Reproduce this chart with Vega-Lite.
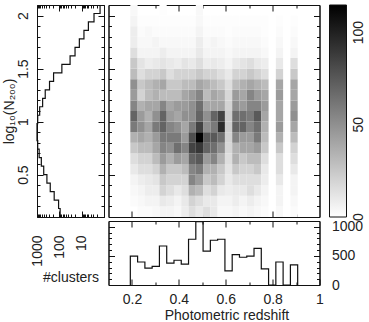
{
  "$schema": "https://vega.github.io/schema/vega-lite/v6.json",
  "padding": {"left": 2, "top": 2, "right": 5, "bottom": 2},
  "config": {
    "font": "Liberation Sans",
    "view": {"stroke": null},
    "axis": {
      "domain": true, "domainColor": "#111", "domainWidth": 1, "grid": false, "zindex": 1,
      "labelFont": "Liberation Sans", "labelFontSize": 14, "labelColor": "#222",
      "labelOverlap": false, "labelFlush": false,
      "tickColor": "#111", "tickWidth": 1,
      "titleFont": "Liberation Sans", "titleFontSize": 14, "titleFontWeight": "normal", "titleColor": "#222"
    },
    "legend": {
      "labelFont": "Liberation Sans", "labelFontSize": 14, "labelColor": "#222"
    }
  },
  "datasets": {
    "xbins": [
      {"col": "c0", "x0": 0.1931, "x1": 0.2241}, {"col": "c1", "x0": 0.2241, "x1": 0.2552},
      {"col": "c2", "x0": 0.2552, "x1": 0.2862}, {"col": "c3", "x0": 0.2862, "x1": 0.3172},
      {"col": "c4", "x0": 0.3172, "x1": 0.3483}, {"col": "c5", "x0": 0.3483, "x1": 0.3793},
      {"col": "c6", "x0": 0.3793, "x1": 0.4103}, {"col": "c7", "x0": 0.4103, "x1": 0.4414},
      {"col": "c8", "x0": 0.4414, "x1": 0.4724}, {"col": "c9", "x0": 0.4724, "x1": 0.5034},
      {"col": "c10", "x0": 0.5034, "x1": 0.5345}, {"col": "c11", "x0": 0.5345, "x1": 0.5655},
      {"col": "c12", "x0": 0.5655, "x1": 0.5966}, {"col": "c13", "x0": 0.5966, "x1": 0.6276},
      {"col": "c14", "x0": 0.6276, "x1": 0.6586}, {"col": "c15", "x0": 0.6586, "x1": 0.6897},
      {"col": "c16", "x0": 0.6897, "x1": 0.7207}, {"col": "c17", "x0": 0.7207, "x1": 0.7517},
      {"col": "c18", "x0": 0.7517, "x1": 0.7828}, {"col": "c19", "x0": 0.7828, "x1": 0.8138},
      {"col": "c20", "x0": 0.8138, "x1": 0.8448}, {"col": "c21", "x0": 0.8448, "x1": 0.8759},
      {"col": "c22", "x0": 0.8759, "x1": 0.9069}
    ],
    "grid": [
      {"y0": 0.1, "y1": 0.2, "c0": 0, "c1": 2, "c2": 2, "c3": 3, "c4": 5, "c5": 5, "c6": 3, "c7": 8, "c8": 15, "c9": 10, "c10": 15, "c11": 10, "c12": 3, "c13": 3, "c14": 5, "c15": 3, "c16": 5, "c17": 3, "c18": 2, "c19": 0, "c20": 3, "c21": 0, "c22": 2},
      {"y0": 0.2, "y1": 0.3, "c0": 2, "c1": 3, "c2": 5, "c3": 5, "c4": 10, "c5": 8, "c6": 5, "c7": 10, "c8": 20, "c9": 15, "c10": 10, "c11": 10, "c12": 5, "c13": 5, "c14": 8, "c15": 5, "c16": 8, "c17": 5, "c18": 3, "c19": 0, "c20": 5, "c21": 0, "c22": 3},
      {"y0": 0.3, "y1": 0.4, "c0": 3, "c1": 5, "c2": 8, "c3": 8, "c4": 20, "c5": 15, "c6": 10, "c7": 15, "c8": 35, "c9": 30, "c10": 15, "c11": 20, "c12": 10, "c13": 8, "c14": 10, "c15": 10, "c16": 15, "c17": 10, "c18": 5, "c19": 0, "c20": 5, "c21": 0, "c22": 5},
      {"y0": 0.4, "y1": 0.5, "c0": 5, "c1": 8, "c2": 10, "c3": 12, "c4": 25, "c5": 20, "c6": 20, "c7": 20, "c8": 55, "c9": 45, "c10": 25, "c11": 30, "c12": 20, "c13": 10, "c14": 15, "c15": 15, "c16": 15, "c17": 15, "c18": 8, "c19": 0, "c20": 10, "c21": 0, "c22": 5},
      {"y0": 0.5, "y1": 0.6, "c0": 10, "c1": 15, "c2": 15, "c3": 20, "c4": 35, "c5": 25, "c6": 25, "c7": 30, "c8": 55, "c9": 60, "c10": 35, "c11": 35, "c12": 25, "c13": 12, "c14": 25, "c15": 20, "c16": 20, "c17": 25, "c18": 10, "c19": 0, "c20": 15, "c21": 0, "c22": 10},
      {"y0": 0.6, "y1": 0.7, "c0": 15, "c1": 20, "c2": 20, "c3": 30, "c4": 45, "c5": 35, "c6": 45, "c7": 40, "c8": 70, "c9": 75, "c10": 45, "c11": 55, "c12": 35, "c13": 15, "c14": 35, "c15": 25, "c16": 30, "c17": 30, "c18": 15, "c19": 0, "c20": 15, "c21": 0, "c22": 15},
      {"y0": 0.7, "y1": 0.8, "c0": 25, "c1": 30, "c2": 30, "c3": 40, "c4": 55, "c5": 50, "c6": 65, "c7": 55, "c8": 85, "c9": 90, "c10": 70, "c11": 65, "c12": 50, "c13": 18, "c14": 35, "c15": 40, "c16": 40, "c17": 45, "c18": 25, "c19": 0, "c20": 25, "c21": 0, "c22": 20},
      {"y0": 0.8, "y1": 0.9, "c0": 35, "c1": 40, "c2": 35, "c3": 45, "c4": 60, "c5": 60, "c6": 60, "c7": 45, "c8": 80, "c9": 115, "c10": 75, "c11": 75, "c12": 65, "c13": 20, "c14": 55, "c15": 45, "c16": 45, "c17": 60, "c18": 30, "c19": 0, "c20": 35, "c21": 0, "c22": 30},
      {"y0": 0.9, "y1": 1.0, "c0": 60, "c1": 50, "c2": 40, "c3": 60, "c4": 70, "c5": 55, "c6": 50, "c7": 40, "c8": 60, "c9": 85, "c10": 50, "c11": 60, "c12": 95, "c13": 22, "c14": 70, "c15": 70, "c16": 55, "c17": 65, "c18": 35, "c19": 0, "c20": 45, "c21": 0, "c22": 40},
      {"y0": 1.0, "y1": 1.1, "c0": 70, "c1": 45, "c2": 35, "c3": 50, "c4": 70, "c5": 45, "c6": 40, "c7": 50, "c8": 50, "c9": 70, "c10": 50, "c11": 70, "c12": 85, "c13": 22, "c14": 65, "c15": 65, "c16": 60, "c17": 75, "c18": 40, "c19": 0, "c20": 40, "c21": 0, "c22": 50},
      {"y0": 1.1, "y1": 1.2, "c0": 55, "c1": 35, "c2": 40, "c3": 40, "c4": 55, "c5": 40, "c6": 45, "c7": 45, "c8": 50, "c9": 65, "c10": 40, "c11": 40, "c12": 40, "c13": 20, "c14": 50, "c15": 45, "c16": 55, "c17": 55, "c18": 45, "c19": 0, "c20": 40, "c21": 0, "c22": 45},
      {"y0": 1.2, "y1": 1.3, "c0": 45, "c1": 20, "c2": 30, "c3": 35, "c4": 30, "c5": 30, "c6": 30, "c7": 40, "c8": 45, "c9": 55, "c10": 30, "c11": 40, "c12": 35, "c13": 18, "c14": 45, "c15": 40, "c16": 55, "c17": 45, "c18": 40, "c19": 0, "c20": 45, "c21": 0, "c22": 40},
      {"y0": 1.3, "y1": 1.4, "c0": 50, "c1": 25, "c2": 30, "c3": 35, "c4": 40, "c5": 25, "c6": 25, "c7": 30, "c8": 30, "c9": 40, "c10": 35, "c11": 30, "c12": 25, "c13": 15, "c14": 30, "c15": 35, "c16": 40, "c17": 35, "c18": 30, "c19": 0, "c20": 40, "c21": 0, "c22": 40},
      {"y0": 1.4, "y1": 1.5, "c0": 30, "c1": 15, "c2": 20, "c3": 20, "c4": 25, "c5": 15, "c6": 20, "c7": 20, "c8": 20, "c9": 25, "c10": 20, "c11": 20, "c12": 15, "c13": 10, "c14": 20, "c15": 20, "c16": 25, "c17": 20, "c18": 15, "c19": 0, "c20": 20, "c21": 0, "c22": 25},
      {"y0": 1.5, "y1": 1.6, "c0": 25, "c1": 12, "c2": 8, "c3": 10, "c4": 12, "c5": 10, "c6": 8, "c7": 12, "c8": 10, "c9": 15, "c10": 8, "c11": 10, "c12": 8, "c13": 5, "c14": 10, "c15": 12, "c16": 15, "c17": 10, "c18": 8, "c19": 0, "c20": 10, "c21": 0, "c22": 15},
      {"y0": 1.6, "y1": 1.7, "c0": 15, "c1": 5, "c2": 5, "c3": 5, "c4": 8, "c5": 5, "c6": 5, "c7": 5, "c8": 5, "c9": 10, "c10": 5, "c11": 5, "c12": 5, "c13": 3, "c14": 5, "c15": 5, "c16": 5, "c17": 5, "c18": 3, "c19": 0, "c20": 5, "c21": 0, "c22": 5},
      {"y0": 1.7, "y1": 1.8, "c0": 8, "c1": 3, "c2": 3, "c3": 5, "c4": 3, "c5": 3, "c6": 3, "c7": 3, "c8": 3, "c9": 8, "c10": 3, "c11": 5, "c12": 3, "c13": 2, "c14": 3, "c15": 3, "c16": 3, "c17": 3, "c18": 2, "c19": 0, "c20": 3, "c21": 0, "c22": 3},
      {"y0": 1.8, "y1": 1.9, "c0": 8, "c1": 2, "c2": 3, "c3": 2, "c4": 2, "c5": 2, "c6": 2, "c7": 2, "c8": 2, "c9": 5, "c10": 2, "c11": 2, "c12": 2, "c13": 1, "c14": 2, "c15": 2, "c16": 2, "c17": 2, "c18": 1, "c19": 0, "c20": 2, "c21": 0, "c22": 2},
      {"y0": 1.9, "y1": 2.0, "c0": 5, "c1": 1, "c2": 1, "c3": 1, "c4": 1, "c5": 1, "c6": 1, "c7": 1, "c8": 1, "c9": 3, "c10": 1, "c11": 1, "c12": 1, "c13": 1, "c14": 1, "c15": 1, "c16": 1, "c17": 1, "c18": 1, "c19": 0, "c20": 1, "c21": 0, "c22": 1},
      {"y0": 2.0, "y1": 2.1, "c0": 3, "c1": 0, "c2": 0, "c3": 0, "c4": 1, "c5": 0, "c6": 0, "c7": 0, "c8": 0, "c9": 3, "c10": 0, "c11": 0, "c12": 0, "c13": 0, "c14": 0, "c15": 0, "c16": 0, "c17": 0, "c18": 0, "c19": 0, "c20": 0, "c21": 0, "c22": 0}
    ],
    "yhist": [
      {"y": 0.10, "n": 92}, {"y": 0.18, "n": 108}, {"y": 0.26, "n": 170}, {"y": 0.34, "n": 255},
      {"y": 0.42, "n": 360}, {"y": 0.50, "n": 500}, {"y": 0.58, "n": 640}, {"y": 0.66, "n": 800},
      {"y": 0.74, "n": 930}, {"y": 0.82, "n": 1000}, {"y": 0.90, "n": 1000}, {"y": 0.98, "n": 930},
      {"y": 1.06, "n": 760}, {"y": 1.14, "n": 560}, {"y": 1.22, "n": 428}, {"y": 1.30, "n": 275},
      {"y": 1.38, "n": 181}, {"y": 1.46, "n": 77}, {"y": 1.54, "n": 33}, {"y": 1.62, "n": 19.8},
      {"y": 1.70, "n": 12.7}, {"y": 1.78, "n": 7.9}, {"y": 1.86, "n": 5}, {"y": 1.94, "n": 2.8},
      {"y": 2.02, "n": 1.5}, {"y": 2.10, "n": 1.5}
    ],
    "xhist": [
      {"i": 0, "x": 0.1931, "n": 0}, {"i": 1, "x": 0.1931, "n": 495}, {"i": 2, "x": 0.2241, "n": 395},
      {"i": 3, "x": 0.2552, "n": 290}, {"i": 4, "x": 0.2862, "n": 320}, {"i": 5, "x": 0.3172, "n": 670},
      {"i": 6, "x": 0.3483, "n": 377}, {"i": 7, "x": 0.3793, "n": 425}, {"i": 8, "x": 0.4103, "n": 360},
      {"i": 9, "x": 0.4414, "n": 786}, {"i": 10, "x": 0.4724, "n": 1090}, {"i": 11, "x": 0.5034, "n": 582},
      {"i": 12, "x": 0.5345, "n": 769}, {"i": 13, "x": 0.5655, "n": 786}, {"i": 14, "x": 0.5966, "n": 242},
      {"i": 15, "x": 0.6276, "n": 523}, {"i": 16, "x": 0.6586, "n": 477}, {"i": 17, "x": 0.6897, "n": 495},
      {"i": 18, "x": 0.7207, "n": 628}, {"i": 19, "x": 0.7517, "n": 277}, {"i": 20, "x": 0.7828, "n": 0},
      {"i": 21, "x": 0.8138, "n": 395}, {"i": 22, "x": 0.8448, "n": 0}, {"i": 23, "x": 0.8759, "n": 347},
      {"i": 24, "x": 0.9069, "n": 0}
    ]
  },
  "columns": 2,
  "align": "each",
  "spacing": {"column": 2.5, "row": -4},
  "resolve": {"scale": {"color": "independent"}, "legend": {"color": "independent"}},
  "concat": [
    {
      "width": 67, "height": 212,
      "data": {"name": "yhist"},
      "encoding": {
        "x": {"field": "n", "type": "quantitative", "scale": {"type": "log", "domain": [1, 1000], "reverse": true, "nice": false}},
        "y": {"field": "y", "type": "quantitative", "scale": {"domain": [0.1, 2.1], "nice": false, "zero": false}},
        "order": {"field": "y", "type": "quantitative"}
      },
      "layer": [
        {
          "mark": {"type": "line", "interpolate": "step-before", "orient": "vertical", "color": "#111", "strokeWidth": 1.2},
          "encoding": {
            "x": {"field": "n", "type": "quantitative", "axis": {"orient": "bottom", "values": [10, 100], "tickSize": -6, "labels": false, "title": null}},
            "y": {"field": "y", "type": "quantitative", "axis": {"orient": "left", "values": [0.5, 1, 1.5, 2], "format": "~g", "tickSize": -6, "labelAngle": -90, "labelPadding": 13, "title": "log₁₀(N₂₀₀)", "titlePadding": 0}}
          }
        },
        {
          "mark": {"type": "line", "orient": "vertical", "opacity": 0},
          "encoding": {
            "x": {"field": "n", "type": "quantitative", "axis": {"orient": "top", "values": [10, 100], "tickSize": -6, "labels": false, "title": null}},
            "y": {"field": "y", "type": "quantitative", "axis": {"orient": "right", "values": [0.5, 1, 1.5, 2], "tickSize": -6, "labels": false, "title": null}}
          }
        },
        {
          "mark": {"type": "line", "orient": "vertical", "opacity": 0},
          "encoding": {
            "x": {"field": "n", "type": "quantitative", "axis": {"orient": "bottom", "values": [2, 3, 4, 5, 6, 7, 8, 9, 20, 30, 40, 50, 60, 70, 80, 90, 200, 300, 400, 500, 600, 700, 800, 900], "tickSize": -3, "labels": false, "title": null}},
            "y": {"field": "y", "type": "quantitative", "axis": {"orient": "left", "values": [0.2, 0.3, 0.4, 0.6, 0.7, 0.8, 0.9, 1.1, 1.2, 1.3, 1.4, 1.6, 1.7, 1.8, 1.9, 2.0], "tickSize": -3, "labels": false, "title": null}}
          }
        },
        {
          "mark": {"type": "line", "orient": "vertical", "opacity": 0},
          "encoding": {
            "x": {"field": "n", "type": "quantitative", "axis": {"orient": "top", "values": [2, 3, 4, 5, 6, 7, 8, 9, 20, 30, 40, 50, 60, 70, 80, 90, 200, 300, 400, 500, 600, 700, 800, 900], "tickSize": -3, "labels": false, "title": null}},
            "y": {"field": "y", "type": "quantitative", "axis": {"orient": "right", "values": [0.2, 0.3, 0.4, 0.6, 0.7, 0.8, 0.9, 1.1, 1.2, 1.3, 1.4, 1.6, 1.7, 1.8, 1.9, 2.0], "tickSize": -3, "labels": false, "title": null}}
          }
        }
      ],
      "resolve": {"axis": {"x": "independent", "y": "independent"}}
    },
    {
      "width": 211, "height": 212,
      "data": {"name": "grid"},
      "transform": [
        {"fold": ["c0", "c1", "c2", "c3", "c4", "c5", "c6", "c7", "c8", "c9", "c10", "c11", "c12", "c13", "c14", "c15", "c16", "c17", "c18", "c19", "c20", "c21", "c22"], "as": ["col", "n"]},
        {"lookup": "col", "from": {"data": {"name": "xbins"}, "key": "col", "fields": ["x0", "x1"]}},
        {"filter": "datum.n > 0"}
      ],
      "encoding": {
        "x": {"field": "x0", "type": "quantitative", "scale": {"domain": [0.1, 1], "nice": false, "zero": false}},
        "x2": {"field": "x1"},
        "y": {"field": "y0", "type": "quantitative", "scale": {"domain": [0.1, 2.1], "nice": false, "zero": false}},
        "y2": {"field": "y1"}
      },
      "layer": [
        {
          "mark": {"type": "rect"},
          "encoding": {
            "color": {
              "field": "n", "type": "quantitative",
              "scale": {"domain": [0, 115], "range": ["#ffffff", "#000000"], "interpolate": "rgb"},
              "legend": {
                "orient": "right", "direction": "vertical", "title": null,
                "values": [0, 50, 100], "gradientLength": 212, "gradientThickness": 17,
                "gradientStrokeColor": "#111", "gradientStrokeWidth": 1,
                "offset": 8.5, "padding": 0, "labelOffset": 5,
                "encoding": {"labels": {"angle": {"value": -90}, "align": {"value": "center"}, "baseline": {"value": "top"}}}
              }
            },
            "x": {"field": "x0", "type": "quantitative", "axis": {"orient": "bottom", "values": [0.2, 0.4, 0.6, 0.8], "tickSize": -6, "labels": false, "title": null}},
            "y": {"field": "y0", "type": "quantitative", "axis": {"orient": "left", "values": [0.5, 1, 1.5, 2], "tickSize": -6, "labels": false, "title": null}}
          }
        },
        {
          "mark": {"type": "rect", "opacity": 0},
          "encoding": {
            "x": {"field": "x0", "type": "quantitative", "axis": {"orient": "top", "values": [0.2, 0.4, 0.6, 0.8], "tickSize": -6, "labels": false, "title": null}},
            "y": {"field": "y0", "type": "quantitative", "axis": {"orient": "right", "values": [0.5, 1, 1.5, 2], "tickSize": -6, "labels": false, "title": null}}
          }
        },
        {
          "mark": {"type": "rect", "opacity": 0},
          "encoding": {
            "x": {"field": "x0", "type": "quantitative", "axis": {"orient": "bottom", "values": [0.3, 0.5, 0.7, 0.9], "tickSize": -3, "labels": false, "title": null}},
            "y": {"field": "y0", "type": "quantitative", "axis": {"orient": "left", "values": [0.2, 0.3, 0.4, 0.6, 0.7, 0.8, 0.9, 1.1, 1.2, 1.3, 1.4, 1.6, 1.7, 1.8, 1.9, 2.0], "tickSize": -3, "labels": false, "title": null}}
          }
        },
        {
          "mark": {"type": "rect", "opacity": 0},
          "encoding": {
            "x": {"field": "x0", "type": "quantitative", "axis": {"orient": "top", "values": [0.3, 0.5, 0.7, 0.9], "tickSize": -3, "labels": false, "title": null}},
            "y": {"field": "y0", "type": "quantitative", "axis": {"orient": "right", "values": [0.2, 0.3, 0.4, 0.6, 0.7, 0.8, 0.9, 1.1, 1.2, 1.3, 1.4, 1.6, 1.7, 1.8, 1.9, 2.0], "tickSize": -3, "labels": false, "title": null}}
          }
        }
      ],
      "resolve": {"axis": {"x": "independent", "y": "independent"}}
    },
    {
      "width": 67, "height": 1,
      "data": {"name": "yhist"},
      "mark": {"type": "point", "opacity": 0},
      "encoding": {
        "x": {
          "field": "n", "type": "quantitative",
          "scale": {"type": "log", "domain": [1, 1000], "reverse": true, "nice": false},
          "axis": {"orient": "bottom", "values": [10, 100, 1000], "format": "d", "domain": false, "ticks": false, "labelAngle": -90, "labelPadding": 13, "title": "#clusters", "titlePadding": 4}
        }
      }
    },
    {
      "width": 211, "height": 64,
      "data": {"name": "xhist"},
      "encoding": {
        "x": {"field": "x", "type": "quantitative", "scale": {"domain": [0.1, 1], "nice": false, "zero": false}},
        "y": {"field": "n", "type": "quantitative", "scale": {"domain": [0, 1100], "nice": false}},
        "order": {"field": "i", "type": "quantitative"}
      },
      "layer": [
        {
          "mark": {"type": "line", "interpolate": "step-after", "color": "#111", "strokeWidth": 1.2},
          "encoding": {
            "x": {"field": "x", "type": "quantitative", "axis": {"orient": "bottom", "values": [0.2, 0.4, 0.6, 0.8, 1], "format": "~g", "tickSize": -6, "labelPadding": 13, "title": "Photometric redshift", "titlePadding": 2, "titleX": 118, "titleAlign": "center"}},
            "y": {"field": "n", "type": "quantitative", "axis": {"orient": "right", "values": [0, 500, 1000], "format": "d", "tickSize": -6, "labelPadding": 18, "labelAlign": "left", "title": null}}
          }
        },
        {
          "mark": {"type": "line", "opacity": 0},
          "encoding": {
            "x": {"field": "x", "type": "quantitative", "axis": {"orient": "top", "values": [0.2, 0.4, 0.6, 0.8], "tickSize": -6, "labels": false, "title": null}},
            "y": {"field": "n", "type": "quantitative", "axis": {"orient": "left", "values": [500, 1000], "tickSize": -6, "labels": false, "title": null}}
          }
        },
        {
          "mark": {"type": "line", "opacity": 0},
          "encoding": {
            "x": {"field": "x", "type": "quantitative", "axis": {"orient": "bottom", "values": [0.3, 0.5, 0.7, 0.9], "tickSize": -3, "labels": false, "title": null}},
            "y": {"field": "n", "type": "quantitative", "axis": {"orient": "right", "values": [100, 200, 300, 400, 600, 700, 800, 900], "tickSize": -3, "labels": false, "title": null}}
          }
        },
        {
          "mark": {"type": "line", "opacity": 0},
          "encoding": {
            "x": {"field": "x", "type": "quantitative", "axis": {"orient": "top", "values": [0.3, 0.5, 0.7, 0.9], "tickSize": -3, "labels": false, "title": null}},
            "y": {"field": "n", "type": "quantitative", "axis": {"orient": "left", "values": [100, 200, 300, 400, 600, 700, 800, 900], "tickSize": -3, "labels": false, "title": null}}
          }
        }
      ],
      "resolve": {"axis": {"x": "independent", "y": "independent"}}
    }
  ]
}
